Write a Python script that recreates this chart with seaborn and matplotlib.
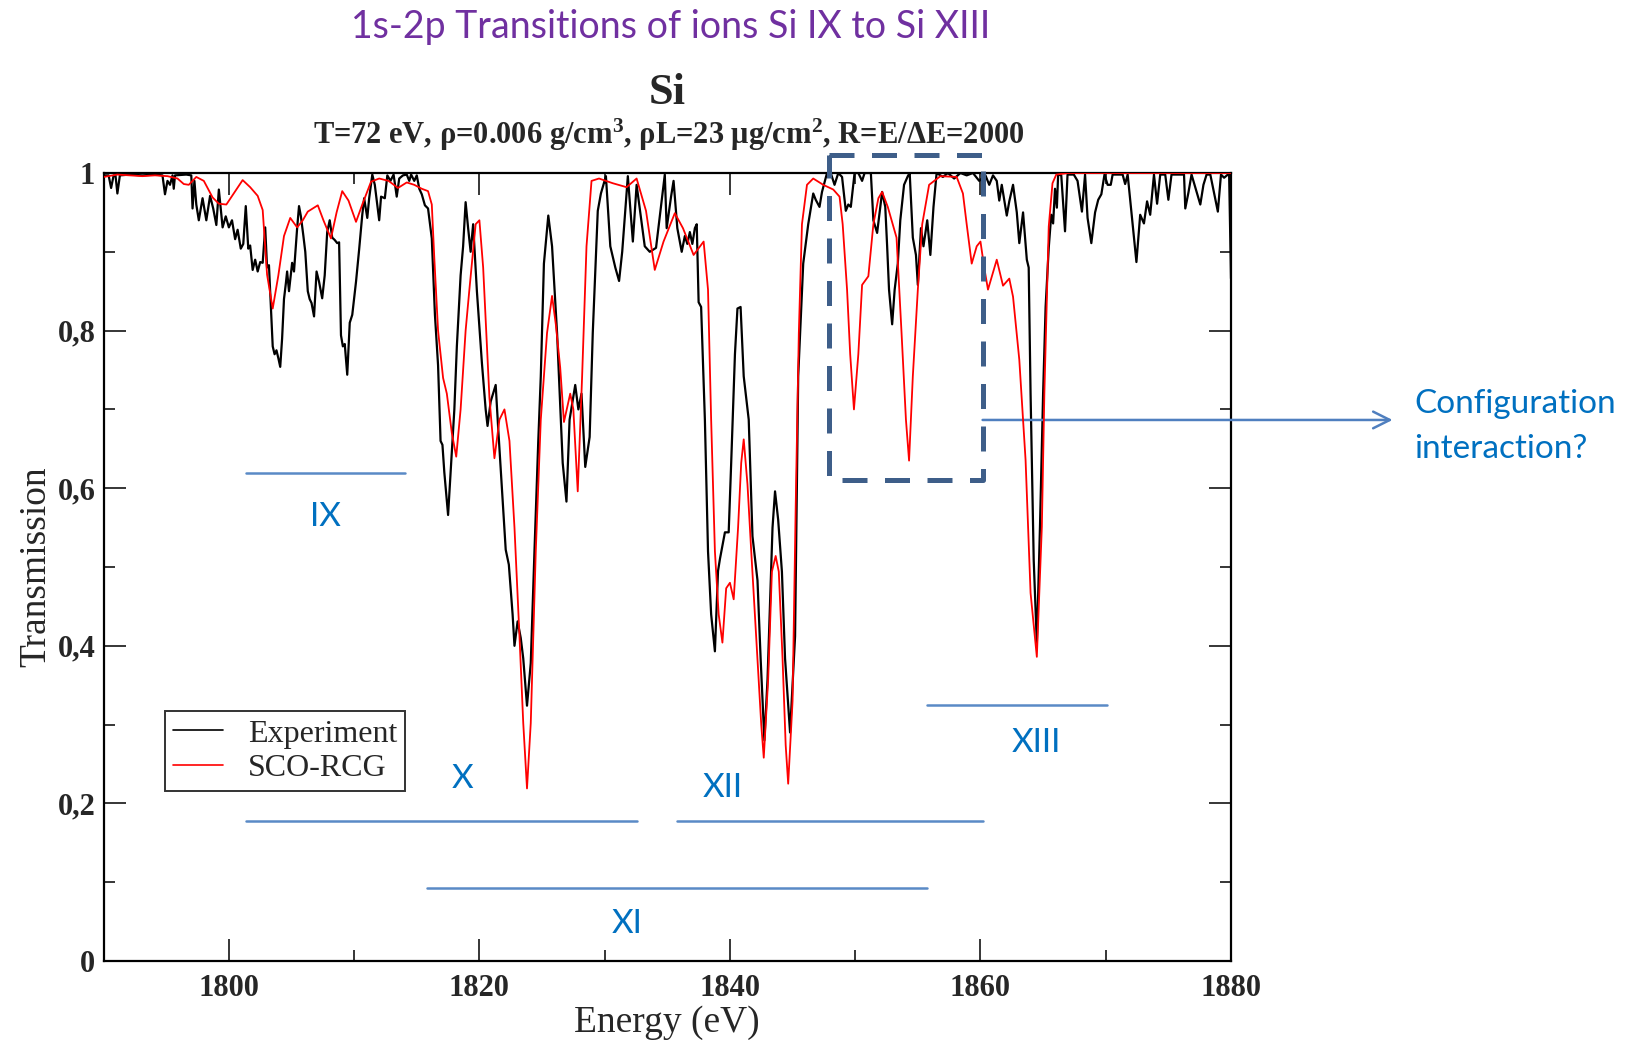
import numpy as np
import pandas as pd
import matplotlib
matplotlib.use("Agg")
import matplotlib.pyplot as plt
import seaborn as sns
from matplotlib.ticker import MultipleLocator, FuncFormatter
from matplotlib.lines import Line2D

# ---------------- data ----------------
exp_energy = [1790.0, 1790.4, 1790.6, 1790.8, 1790.95, 1791.1, 1791.3, 1792.1, 1793.1, 1794.1,
              1794.7, 1794.9, 1795.1, 1795.3, 1795.5, 1795.6, 1795.7, 1796.6, 1797.0, 1797.1,
              1797.25, 1797.4, 1797.6, 1797.9, 1798.2, 1798.5, 1798.75, 1799.0, 1799.2, 1799.5,
              1799.75, 1800.0, 1800.25, 1800.5, 1800.7, 1800.95, 1801.15, 1801.35, 1801.55, 1801.7,
              1801.9, 1802.1, 1802.3, 1802.5, 1802.7, 1802.9, 1803.05, 1803.2, 1803.35, 1803.5,
              1803.65, 1803.8, 1803.95, 1804.1, 1804.25, 1804.4, 1804.55, 1804.65, 1804.8, 1805.05,
              1805.2, 1805.45, 1805.6, 1805.75, 1805.95, 1806.1, 1806.3, 1806.45, 1806.6, 1806.8,
              1807.0, 1807.2, 1807.45, 1807.65, 1807.85, 1808.05, 1808.25, 1808.45, 1808.65, 1808.8,
              1808.95, 1809.1, 1809.25, 1809.45, 1809.65, 1809.85, 1810.15, 1810.4, 1810.65, 1810.8,
              1811.05, 1811.2, 1811.45, 1811.65, 1812.0, 1812.15, 1812.45, 1812.65, 1812.9, 1813.15,
              1813.4, 1813.6, 1813.9, 1814.2, 1814.4, 1814.55, 1814.8, 1815.0, 1815.2, 1815.4,
              1815.65, 1815.9, 1816.2, 1816.45, 1816.7, 1816.9, 1817.05, 1817.2, 1817.5, 1817.75,
              1818.0, 1818.2, 1818.5, 1818.7, 1818.9, 1819.1, 1819.3, 1819.5, 1819.8, 1820.2,
              1820.5, 1820.65, 1820.9, 1821.3, 1821.5, 1821.8, 1822.1, 1822.35, 1822.65, 1822.8,
              1823.05, 1823.3, 1823.5, 1823.8, 1824.1, 1824.4, 1824.7, 1824.9, 1825.15, 1825.5,
              1825.8, 1826.2, 1826.65, 1826.95, 1827.2, 1827.65, 1827.9, 1828.15, 1828.45, 1828.8,
              1829.05, 1829.45, 1829.7, 1830.1, 1830.45, 1830.85, 1831.15, 1831.4, 1831.85, 1832.25,
              1832.55, 1833.2, 1833.6, 1834.1, 1834.8, 1834.95, 1835.3, 1835.5, 1835.8, 1836.15,
              1836.4, 1836.6, 1836.8, 1837.0, 1837.2, 1837.35, 1837.5, 1837.7, 1838.0, 1838.25,
              1838.5, 1838.8, 1839.05, 1839.2, 1839.6, 1839.9, 1840.1, 1840.4, 1840.6, 1840.85,
              1841.1, 1841.5, 1841.8, 1842.2, 1842.45, 1842.75, 1843.0, 1843.4, 1843.6, 1843.85,
              1844.15, 1844.4, 1844.8, 1845.2, 1845.45, 1845.85, 1846.25, 1846.65, 1846.85, 1847.15,
              1847.35, 1847.75, 1848.05, 1848.35, 1848.65, 1848.95, 1849.25, 1849.45, 1849.65, 1849.95,
              1850.25, 1850.55, 1850.75, 1851.25, 1851.45, 1851.75, 1852.15, 1852.4, 1852.55, 1852.7,
              1852.95, 1853.15, 1853.4, 1853.6, 1853.9, 1854.2, 1854.35, 1854.6, 1854.85, 1855.0,
              1855.25, 1855.45, 1855.75, 1856.0, 1856.25, 1856.5, 1857.0, 1857.4, 1857.9, 1858.4,
              1858.9, 1859.4, 1859.9, 1860.4, 1860.7, 1861.0, 1861.3, 1861.5, 1861.7, 1862.1,
              1862.3, 1862.6, 1862.9, 1863.1, 1863.4, 1863.7, 1863.85, 1864.0, 1864.25, 1864.5,
              1864.75, 1865.0, 1865.2, 1865.45, 1865.65, 1865.8, 1865.95, 1866.1, 1866.2, 1866.45,
              1866.75, 1866.95, 1867.45, 1867.75, 1868.1, 1868.35, 1868.55, 1868.85, 1869.15, 1869.4,
              1869.65, 1869.9, 1870.15, 1870.4, 1870.55, 1871.35, 1871.55, 1871.75, 1872.2, 1872.45,
              1872.75, 1873.05, 1873.3, 1873.55, 1873.85, 1874.1, 1874.35, 1874.75, 1875.0, 1875.25,
              1876.25, 1876.35, 1876.6, 1876.85, 1877.55, 1877.8, 1878.05, 1878.35, 1878.95, 1879.2,
              1879.45, 1879.75, 1879.85, 1880.0]
exp_trans = [0.997, 0.997, 0.981, 0.997, 0.997, 0.974, 0.997, 0.998, 0.997, 0.998,
             0.997, 0.973, 0.99, 0.985, 0.997, 0.98, 0.997, 0.998, 0.997, 0.955,
             0.99, 0.96, 0.94, 0.968, 0.94, 0.971, 0.955, 0.934, 0.979, 0.931,
             0.945, 0.931, 0.94, 0.916, 0.928, 0.904, 0.91, 0.958, 0.904, 0.908,
             0.877, 0.89, 0.875, 0.887, 0.886, 0.931, 0.88, 0.883, 0.83, 0.78,
             0.77, 0.775, 0.765, 0.754, 0.79, 0.84, 0.86, 0.875, 0.85, 0.886,
             0.875, 0.93, 0.958, 0.945, 0.92, 0.90, 0.85, 0.84, 0.835, 0.818,
             0.875, 0.862, 0.841, 0.87, 0.925, 0.94, 0.918, 0.915, 0.911, 0.912,
             0.794, 0.78, 0.783, 0.744, 0.81, 0.82, 0.862, 0.903, 0.947, 0.968,
             0.943, 0.968, 0.998, 0.985, 0.94, 0.97, 0.968, 0.997, 0.99, 0.998,
             0.97, 0.993, 0.997, 0.998, 0.99, 0.998, 0.99, 0.997, 0.98, 0.973,
             0.959, 0.955, 0.917, 0.82, 0.756, 0.66, 0.655, 0.62, 0.566, 0.632,
             0.70, 0.78, 0.87, 0.907, 0.963, 0.93, 0.90, 0.935, 0.85, 0.759,
             0.70, 0.679, 0.71, 0.731, 0.676, 0.60, 0.522, 0.503, 0.44, 0.40,
             0.431, 0.41, 0.384, 0.324, 0.378, 0.522, 0.66, 0.742, 0.885, 0.946,
             0.907, 0.797, 0.632, 0.583, 0.687, 0.731, 0.70, 0.72, 0.627, 0.665,
             0.797, 0.952, 0.974, 0.996, 0.907, 0.88, 0.863, 0.90, 0.996, 0.913,
             0.985, 0.907, 0.90, 0.905, 0.998, 0.93, 0.97, 0.99, 0.93, 0.90,
             0.92, 0.91, 0.925, 0.91, 0.93, 0.935, 0.836, 0.83, 0.687, 0.52,
             0.44, 0.393, 0.495, 0.51, 0.544, 0.544, 0.632, 0.77, 0.828, 0.83,
             0.742, 0.687, 0.539, 0.483, 0.384, 0.28, 0.357, 0.55, 0.596, 0.56,
             0.494, 0.384, 0.29, 0.412, 0.742, 0.885, 0.935, 0.974, 0.966, 0.957,
             0.976, 1.0, 1.0, 0.985, 1.0, 0.995, 0.952, 0.96, 0.957, 1.0,
             1.0, 0.99, 1.0, 1.0, 0.94, 0.924, 0.976, 0.957, 0.907, 0.852,
             0.808, 0.852, 0.885, 0.94, 0.985, 0.996, 1.0, 0.918, 0.896, 0.858,
             0.93, 0.907, 0.94, 0.896, 0.957, 1.0, 0.995, 1.0, 0.993, 1.0,
             0.997, 1.0, 0.99, 0.997, 0.985, 0.997, 0.99, 0.965, 0.985, 0.946,
             0.964, 0.985, 0.95, 0.911, 0.95, 0.89, 0.88, 0.72, 0.509, 0.403,
             0.551, 0.72, 0.83, 0.905, 0.947, 0.936, 0.98, 0.956, 0.998, 0.997,
             0.926, 0.998, 0.998, 0.99, 0.951, 0.998, 0.943, 0.911, 0.95, 0.966,
             0.973, 0.998, 0.985, 0.985, 0.998, 0.998, 0.986, 0.998, 0.926, 0.887,
             0.947, 0.936, 0.964, 0.947, 0.998, 0.961, 0.998, 0.998, 0.966, 0.998,
             0.998, 0.955, 0.975, 0.998, 0.96, 0.985, 0.998, 0.998, 0.951, 0.998,
             0.994, 0.998, 0.998, 0.866]

calc_energy = [1790.0, 1791.1, 1792.1, 1793.1, 1794.1, 1795.1, 1795.9, 1796.4, 1796.8, 1797.4,
               1798.0, 1798.7, 1799.2, 1799.8, 1800.3, 1801.1, 1801.7, 1802.3, 1802.7, 1803.05,
               1803.5, 1803.95, 1804.4, 1804.9, 1805.45, 1805.9, 1806.3, 1807.1, 1807.55, 1808.15,
               1808.6, 1809.05, 1809.55, 1810.15, 1810.65, 1811.35, 1812.0, 1812.75, 1813.5, 1814.2,
               1814.8, 1815.4, 1815.9, 1816.2, 1816.4, 1816.7, 1817.1, 1817.4, 1817.8, 1818.15,
               1818.5, 1818.9, 1819.2, 1819.7, 1820.0, 1820.3, 1820.8, 1821.2, 1821.6, 1822.0,
               1822.4, 1822.8, 1823.2, 1823.5, 1823.8, 1824.1, 1824.5, 1824.9, 1825.4, 1825.8,
               1826.1, 1826.45, 1826.75, 1827.25, 1827.5, 1827.85, 1828.2, 1828.55, 1828.95, 1829.55,
               1830.65, 1831.75, 1832.55, 1833.3, 1834.0, 1834.7, 1835.6, 1836.25, 1837.1, 1837.9,
               1838.25, 1838.5, 1838.8, 1839.1, 1839.4, 1839.7, 1840.0, 1840.3, 1840.65, 1840.9,
               1841.1, 1841.4, 1841.7, 1842.1, 1842.5, 1842.7, 1843.05, 1843.35, 1843.65, 1843.9,
               1844.2, 1844.45, 1844.65, 1845.0, 1845.25, 1845.5, 1845.75, 1846.15, 1846.65, 1847.45,
               1848.25, 1848.75, 1849.0, 1849.35, 1849.6, 1849.9, 1850.25, 1850.55, 1851.05, 1851.45,
               1851.85, 1852.15, 1852.6, 1853.3, 1853.7, 1854.05, 1854.3, 1854.6, 1855.0, 1855.35,
               1855.9, 1856.8, 1858.1, 1858.6, 1858.9, 1859.3, 1859.7, 1860.0, 1860.3, 1860.6,
               1861.3, 1861.8, 1862.3, 1862.6, 1863.1, 1863.6, 1864.0, 1864.5, 1864.9, 1865.1,
               1865.45, 1865.75, 1866.05, 1867.0, 1880.0]
calc_trans = [0.995, 0.998, 0.997, 0.996, 0.997, 0.996, 0.993, 0.986, 0.985, 0.995,
              0.99, 0.969, 0.961, 0.96, 0.972, 0.991, 0.982, 0.971, 0.953, 0.871,
              0.828, 0.87, 0.92, 0.943, 0.931, 0.94, 0.951, 0.959, 0.94, 0.917,
              0.95, 0.977, 0.965, 0.938, 0.96, 0.989, 0.993, 0.99, 0.981, 0.988,
              0.985, 0.98, 0.977, 0.96, 0.892, 0.80, 0.74, 0.72, 0.67, 0.64,
              0.70, 0.80, 0.852, 0.935, 0.94, 0.88, 0.715, 0.638, 0.687, 0.70,
              0.66, 0.55, 0.412, 0.302, 0.219, 0.302, 0.52, 0.687, 0.797, 0.844,
              0.808, 0.753, 0.684, 0.72, 0.70, 0.596, 0.742, 0.907, 0.99, 0.993,
              0.987, 0.982, 0.993, 0.952, 0.877, 0.913, 0.949, 0.93, 0.896, 0.913,
              0.852, 0.687, 0.52, 0.44, 0.404, 0.473, 0.48, 0.459, 0.55, 0.632,
              0.662, 0.605, 0.52, 0.41, 0.30, 0.258, 0.357, 0.494, 0.514, 0.494,
              0.384, 0.274, 0.225, 0.33, 0.577, 0.797, 0.935, 0.985, 0.993, 0.985,
              0.979, 0.97, 0.935, 0.852, 0.77, 0.70, 0.77, 0.858, 0.869, 0.935,
              0.968, 0.976, 0.957, 0.918, 0.797, 0.687, 0.635, 0.742, 0.852, 0.935,
              0.985, 0.996, 0.995, 0.974, 0.935, 0.885, 0.907, 0.913, 0.88, 0.852,
              0.89, 0.857, 0.866, 0.843, 0.763, 0.636, 0.467, 0.386, 0.551, 0.72,
              0.932, 0.987, 0.998, 1.0, 1.0]

series_names = ["Experiment", "SCO-RCG"]
x_ticks = [1800, 1820, 1840, 1860, 1880]
y_ticks = [0, 0.2, 0.4, 0.6, 0.8, 1.0]

ion_labels = ["IX", "X", "XI", "XII", "XIII"]
ion_seg_start = [1801.37, 1801.37, 1815.84, 1835.8, 1855.77]
ion_seg_end = [1814.08, 1832.56, 1855.7, 1860.17, 1870.07]
ion_seg_level = [0.6195, 0.178, 0.0921, 0.178, 0.3249]
ion_text_x = [1807.7, 1818.67, 1831.8, 1839.4, 1864.5]
ion_text_y = [0.563, 0.231, 0.047, 0.2197, 0.277]

# ---------------- style ----------------
sns.set_style("ticks")
plt.rcParams["font.family"] = ["Liberation Serif", "DejaVu Serif"]
plt.rcParams["mathtext.fontset"] = "custom"
plt.rcParams["mathtext.rm"] = "Liberation Serif"
plt.rcParams["mathtext.bf"] = "Liberation Serif:bold"
plt.rcParams["mathtext.default"] = "regular"

W, H = 1633, 1040
fig = plt.figure(figsize=(W / 100, H / 100), dpi=100)
ax_l, ax_r, ax_t, ax_b = 103.6, 1231.0, 173.0, 961.0
ax = fig.add_axes([ax_l / W, 1 - ax_b / H, (ax_r - ax_l) / W, (ax_b - ax_t) / H])

df_exp = pd.DataFrame({"Energy": exp_energy, "Transmission": exp_trans})
df_calc = pd.DataFrame({"Energy": calc_energy, "Transmission": calc_trans})
sns.lineplot(data=df_exp, x="Energy", y="Transmission", sort=False, estimator=None,
             color="black", lw=1.6, ax=ax, zorder=3)
sns.lineplot(data=df_calc, x="Energy", y="Transmission", sort=False, estimator=None,
             color="red", lw=1.3, ax=ax, zorder=4)

ax.set_xlim(1790, 1880)
ax.set_ylim(0, 1)
ax.xaxis.set_minor_locator(MultipleLocator(10))
ax.yaxis.set_minor_locator(MultipleLocator(0.1))
ax.set_xticks(x_ticks)
ax.set_yticks(y_ticks)
ax.yaxis.set_major_formatter(FuncFormatter(lambda v, p: ("%g" % round(v, 1)).replace(".", ",")))
ax.tick_params(which="both", direction="in", top=True, right=True, width=1.1, color="black")
ax.tick_params(which="major", length=16)
ax.tick_params(which="minor", length=8)
ax.tick_params(axis="x", which="major", pad=9)
ax.tick_params(axis="y", which="major", pad=6)
for lab in ax.get_xticklabels() + ax.get_yticklabels():
    lab.set_fontsize(22)
    lab.set_fontweight("bold")
    lab.set_family("Liberation Serif")
for s in ax.spines.values():
    s.set_linewidth(1.6)
    s.set_color("black")

ax.set_xlabel("Energy (eV)", fontsize=27, labelpad=2)
ax.set_ylabel("Transmission", fontsize=27, labelpad=3)

# legend
handles = [Line2D([], [], color="black", lw=1.2), Line2D([], [], color="red", lw=1.2)]
leg = ax.legend(handles, series_names, loc="upper left", bbox_to_anchor=(0.0545, 0.317),
                borderaxespad=0, fontsize=23, frameon=True, fancybox=False,
                handlelength=1.55, handletextpad=0.8, borderpad=0.25, labelspacing=0.15)
leg.get_frame().set_edgecolor("black")
leg.get_frame().set_linewidth(1.4)

# ion-range annotations
seg_color = "#5A8AC6"
txt_color = "#0070C0"
for lab, x0, x1, lv, tx, ty in zip(ion_labels, ion_seg_start, ion_seg_end, ion_seg_level,
                                   ion_text_x, ion_text_y):
    ax.plot([x0, x1], [lv, lv], color=seg_color, lw=1.8, zorder=2)
    ax.text(tx, ty, lab, color=txt_color, fontsize=24, family="Lato", ha="center", va="center")

# dashed box
box_x = [1847.93, 1860.17, 1860.17, 1847.93, 1847.93]
box_y = [1.023, 1.023, 0.611, 0.611, 1.023]
ax.plot(box_x, box_y, color="#3E5E89", lw=3.6, ls=(0, (5, 3.5)), clip_on=False, zorder=5)

# arrow
ax.annotate("", xy=(1892.9, 0.6866), xytext=(1860.17, 0.6866), xycoords="data",
            textcoords="data", annotation_clip=False,
            arrowprops=dict(arrowstyle="->", color="#4F7FBF", lw=1.8, mutation_scale=30,
                            shrinkA=0, shrinkB=0))
fig.text(1414 / W, 1 - 426.5 / H, "Configuration\ninteraction?", color=txt_color,
         fontsize=24, family="Lato", ha="left", va="center", linespacing=1.6)

# titles
fig.text(670.7 / W, 1 - 27 / H, "1s-2p Transitions of ions Si IX to Si XIII", color="#7030A0",
         fontsize=27, family="Lato", ha="center", va="center")
fig.text(667 / W, 1 - 93 / H, "Si", fontsize=32, fontweight="bold", ha="center", va="center")
fig.text(669 / W, 1 - 135 / H,
         "T=72 eV, ρ=0.006 g/cm$^{3}$, ρL=23 μg/cm$^{2}$, R=E/ΔE=2000",
         fontsize=22, fontweight="bold", ha="center", va="center")

fig.savefig("out.png", dpi=100)
